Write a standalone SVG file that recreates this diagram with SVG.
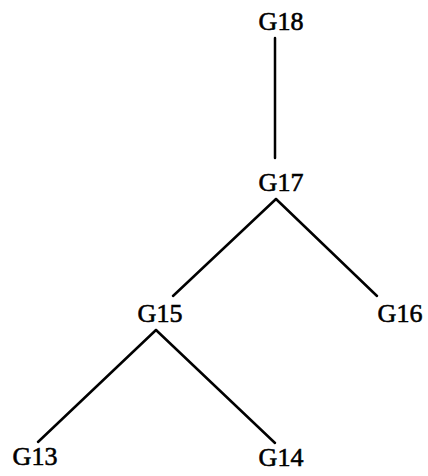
<svg xmlns="http://www.w3.org/2000/svg" width="428" height="476" viewBox="0 0 428 476">
<style>
text{font-family:"Liberation Serif","Times New Roman",serif;font-size:26px;fill:#000;stroke:#000;stroke-width:0.6;text-anchor:middle}
.e line{stroke:#000;stroke-width:2.5;stroke-linecap:round}
</style>
<rect width="428" height="476" fill="#fff"/>
<g class="e" id="connectors">
<line x1="275" y1="38" x2="275" y2="158"/>
<line x1="276" y1="199" x2="173" y2="296"/>
<line x1="276" y1="199" x2="377" y2="296"/>
<line x1="156" y1="330" x2="38" y2="442"/>
<line x1="156" y1="330" x2="275" y2="443"/>
</g>
<g id="G18"><text x="281" y="30">G18</text></g>
<g id="G17"><text x="281" y="191">G17</text></g>
<g id="G15"><text x="160" y="322">G15</text></g>
<g id="G16"><text x="400" y="322">G16</text></g>
<g id="G13"><text x="35" y="465">G13</text></g>
<g id="G14"><text x="281" y="466">G14</text></g>
</svg>
